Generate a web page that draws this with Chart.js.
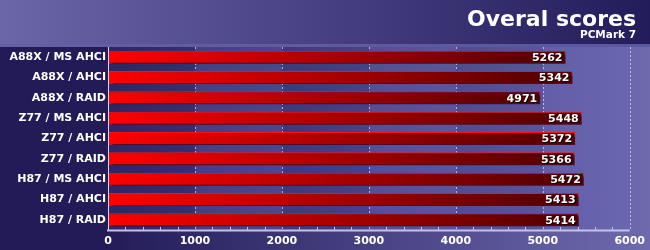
<!DOCTYPE html>
<html>
<head>
<meta charset="utf-8">
<script src="https://cdn.jsdelivr.net/npm/chart.js@4/dist/chart.umd.min.js"></script>
<style>
  html, body { margin: 0; padding: 0; background: #221b58; }
  #wrap { width: 650px; height: 250px; position: relative; }
</style>
</head>
<body>
<div id="wrap"><canvas id="c" width="650" height="250"></canvas></div>
<script>
const categories = ["A88X / MS AHCI", "A88X / AHCI", "A88X / RAID", "Z77 / MS AHCI", "Z77 / AHCI", "Z77 / RAID", "H87 / MS AHCI", "H87 / AHCI", "H87 / RAID"];
const scores = [5262, 5342, 4971, 5448, 5372, 5366, 5472, 5413, 5414];
const xTicks = [0, 1000, 2000, 3000, 4000, 5000, 6000];
const titleText = "Overal scores";
const subtitleText = "PCMark 7";

const FONT = "'DejaVu Sans', Verdana, sans-serif";

const backgroundPlugin = {
  id: 'bg',
  beforeDraw(chart) {
    const ctx = chart.ctx;
    const W = chart.width, H = chart.height;
    const ca = chart.chartArea;
    const xs = chart.scales.x;
    ctx.save();
    let g = ctx.createLinearGradient(100, 0, W, 0);
    g.addColorStop(0, '#221b58');
    g.addColorStop(1, '#6e6aae');
    ctx.fillStyle = '#221b58';
    ctx.fillRect(0, 0, W, H);
    ctx.fillStyle = g;
    ctx.fillRect(100, ca.top, W - 100, H - ca.top);
    ctx.fillStyle = '#221b58';
    ctx.fillRect(0, ca.top, ca.left, ca.bottom - ca.top);
    g = ctx.createLinearGradient(ca.left, 0, ca.right, 0);
    g.addColorStop(0, '#2c2668');
    g.addColorStop(1, '#625ea6');
    ctx.fillStyle = g;
    ctx.fillRect(ca.left, ca.top, ca.right - ca.left, ca.bottom - ca.top);
    for (let i = 0; i < xTicks.length - 1; i++) {
      if (i % 2 === 1) {
        const a = xs.getPixelForValue(xTicks[i]);
        const b = xs.getPixelForValue(xTicks[i + 1]);
        ctx.fillStyle = 'rgba(150,145,230,0.16)';
        ctx.fillRect(a, ca.top, b - a, ca.bottom - ca.top);
      }
    }
    ctx.strokeStyle = 'rgba(215,213,240,0.75)';
    ctx.lineWidth = 1;
    ctx.setLineDash([2, 2]);
    ctx.beginPath();
    xTicks.forEach(v => {
      if (v === 0) return;
      const x = Math.round(xs.getPixelForValue(v)) + 0.5;
      ctx.moveTo(x, ca.top);
      ctx.lineTo(x, ca.bottom);
    });
    ctx.stroke();
    ctx.setLineDash([]);
    g = ctx.createLinearGradient(0, 0, W, 0);
    g.addColorStop(0, '#6b66a8');
    g.addColorStop(1, '#231c5b');
    ctx.fillStyle = g;
    ctx.fillRect(0, 0, W, ca.top - 3);
    g = ctx.createLinearGradient(0, 0, W, 0);
    g.addColorStop(0, '#6560a4');
    g.addColorStop(1, '#5a56a0');
    ctx.fillStyle = g;
    ctx.fillRect(0, ca.top - 3, W, 3);
    ctx.fillStyle = '#ffffff';
    ctx.textAlign = 'right';
    ctx.textBaseline = 'alphabetic';
    ctx.font = "bold 22px " + FONT;
    ctx.fillText(titleText, 636, 26);
    ctx.font = "bold 10.5px " + FONT;
    ctx.fillText(subtitleText, 636, 38);
    ctx.restore();
  },
  afterDraw(chart) {
    const ctx = chart.ctx;
    const ca = chart.chartArea;
    const xs = chart.scales.x;
    ctx.save();
    ctx.strokeStyle = '#c4c2e6';
    ctx.lineWidth = 2;
    ctx.beginPath();
    ctx.moveTo(ca.left - 1, ca.bottom + 0.5);
    ctx.lineTo(ca.right, ca.bottom + 0.5);
    ctx.stroke();
    ctx.lineWidth = 1;
    ctx.strokeStyle = '#d8d6f0';
    ctx.beginPath();
    ctx.moveTo(ca.left + 0.5, ca.top);
    ctx.lineTo(ca.left + 0.5, ca.bottom);
    ctx.stroke();
    ctx.strokeStyle = '#c4c2e6';
    ctx.beginPath();
    for (let v = 200; v < 6000; v += 200) {
      if (v % 1000 === 0) continue;
      const x = Math.round(xs.getPixelForValue(v)) + 0.5;
      ctx.moveTo(x, ca.bottom - 3);
      ctx.lineTo(x, ca.bottom);
    }
    ctx.stroke();
    ctx.restore();
  }
};

const shadowPlugin = {
  id: 'barShadow',
  beforeDatasetDraw(chart) {
    const ctx = chart.ctx;
    ctx.save();
    ctx.shadowColor = 'rgba(15,8,45,0.75)';
    ctx.shadowOffsetX = 3;
    ctx.shadowOffsetY = 3;
    ctx.shadowBlur = 2;
  },
  afterDatasetDraw(chart) {
    chart.ctx.restore();
  }
};

const valueLabelPlugin = {
  id: 'valueLabels',
  afterDatasetsDraw(chart) {
    const ctx = chart.ctx;
    const meta = chart.getDatasetMeta(0);
    ctx.save();
    ctx.font = "bold 11px " + FONT;
    ctx.textAlign = 'right';
    ctx.textBaseline = 'middle';
    meta.data.forEach((bar, i) => {
      const txt = String(chart.data.datasets[0].data[i]);
      ctx.fillStyle = 'rgba(0,0,0,0.9)';
      ctx.fillText(txt, bar.x - 2, bar.y + 2);
      ctx.fillStyle = '#ffffff';
      ctx.fillText(txt, bar.x - 3, bar.y + 1);
    });
    ctx.restore();
  }
};

new Chart(document.getElementById('c'), {
  type: 'bar',
  data: {
    labels: categories,
    datasets: [{
      data: scores,
      backgroundColor(c) {
        const chart = c.chart;
        if (!chart.chartArea || c.raw === undefined) return '#d00000';
        const xs = chart.scales.x;
        const x0 = xs.getPixelForValue(0);
        const x1 = xs.getPixelForValue(c.raw);
        const g = chart.ctx.createLinearGradient(x0, 0, x1, 0);
        g.addColorStop(0, '#ff0000');
        g.addColorStop(0.45, '#b00000');
        g.addColorStop(1, '#4e0000');
        return g;
      },
      borderColor: '#ff1010',
      borderWidth: 1,
      borderSkipped: false,
      barPercentage: 0.64,
      categoryPercentage: 1.0
    }]
  },
  options: {
    indexAxis: 'y',
    responsive: false,
    animation: false,
    events: [],
    layout: { padding: { top: 47, right: 18, bottom: 0, left: 0 } },
    plugins: { legend: { display: false }, tooltip: { enabled: false }, title: { display: false } },
    scales: {
      x: {
        min: 0,
        max: 6000,
        afterBuildTicks(scale) { scale.ticks = xTicks.map(v => ({ value: v })); },
        afterFit(scale) { scale.height = 20; },
        ticks: {
          color: '#ffffff',
          font: { family: FONT, size: 11, weight: 'bold' },
          padding: 5,
          maxRotation: 0,
          callback: (v) => String(v)
        },
        grid: { display: false, drawTicks: false },
        border: { display: false }
      },
      y: {
        afterFit(scale) { scale.width = 108; },
        ticks: {
          color: '#ffffff',
          font: { family: FONT, size: 11, weight: 'bold' },
          padding: 2
        },
        grid: { display: false, drawTicks: false },
        border: { display: false }
      }
    }
  },
  plugins: [backgroundPlugin, shadowPlugin, valueLabelPlugin]
});
</script>
</body>
</html>
